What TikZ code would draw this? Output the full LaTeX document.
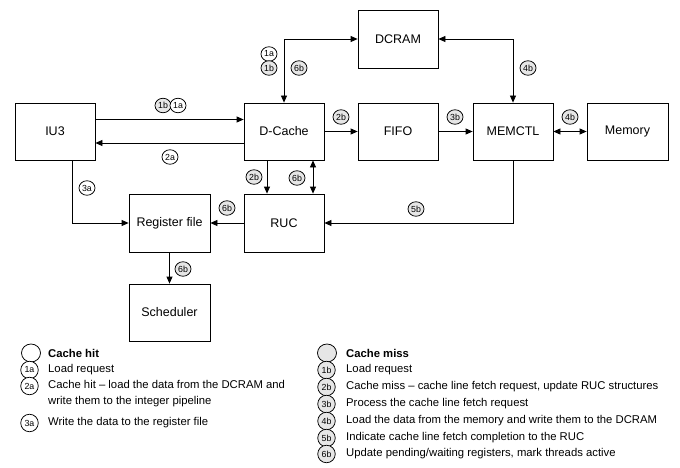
\documentclass[tikz,border=0pt]{standalone}
\usepackage{fontspec}
\setmainfont{Liberation Sans}
\usetikzlibrary{arrows.meta,shapes.geometric}
\definecolor{missgray}{RGB}{230,230,230}
\begin{document}
\begin{tikzpicture}[x=1pt,y=-1pt,
  box/.style={draw,line width=0.8pt,minimum width=80pt,minimum height=57pt,inner sep=0,font=\fontsize{12.5}{14}\selectfont},
  conn/.style={line width=0.8pt},
  arr/.style={conn,-{Triangle[length=7pt,width=6pt]}},
  darr/.style={conn,{Triangle[length=7pt,width=6pt]}-{Triangle[length=7pt,width=6pt]}},
  hit/.style={ellipse,draw,line width=0.75pt,fill=white,minimum width=16pt,minimum height=14.5pt,inner sep=0,font=\fontsize{8.8}{9}\selectfont},
  miss/.style={hit,fill=missgray},
  lhit/.style={hit,minimum width=17.5pt,minimum height=17.5pt},
  lmiss/.style={lhit,fill=missgray},
  legtext/.style={anchor=west,inner sep=0,font=\fontsize{11.3}{16}\selectfont,align=left}
]
\useasboundingbox (0,0) rectangle (680,468);

% boxes
\node[box] (iu3) at (55,131.5) {IU3};
\node[box] (dc) at (284,131.5) {D-Cache};
\node[box,minimum height=58pt] (dcram) at (398,39) {DCRAM};
\node[box] (fifo) at (398,131.5) {FIFO};
\node[box] (memctl) at (513,131.5) {MEMCTL};
\node[box,minimum width=81pt] (mem) at (627.5,131.5) {Memory};
\node[box,minimum width=81pt,minimum height=58pt] (rf) at (169.5,223) {Register file};
\node[box,minimum height=58pt] (ruc) at (284,223) {RUC};
\node[box,minimum width=81pt] (sch) at (169.5,312.5) {Scheduler};

% connectors
\draw[arr] ([yshift=12pt]iu3.east) -- ([yshift=12pt]dc.west);
\draw[arr] ([yshift=-11.5pt]dc.west) -- ([yshift=-11.5pt]iu3.east);
\draw[arr] ([xshift=17.7pt]iu3.south) |- (rf.west);
\draw[arr] ([xshift=-17pt]dc.south) -- ([xshift=-17pt]ruc.north);
\draw[darr] ([xshift=29pt]dc.south) -- ([xshift=29pt]ruc.north);
\draw[arr] (ruc.west) -- (rf.east);
\draw[darr] (dc.north) |- (dcram.west);
\draw[darr] (dcram.east) -| (memctl.north);
\draw[arr] (dc.east) -- (fifo.west);
\draw[arr] (fifo.east) -- (memctl.west);
\draw[darr] (memctl.east) -- (mem.west);
\draw[arr] (memctl.south) |- (ruc.east);
\draw[arr] (rf.south) -- (sch.north);

% step labels
\node[miss] (c1) at (163,105.5) {1b};
\node[hit] (c2) at (178,105.5) {1a};
\node[hit] (c3) at (170,157) {2a};
\node[hit] (c4) at (87,188) {3a};
\node[miss] (c5) at (254,177) {2b};
\node[miss] (c6) at (297,178) {6b};
\node[miss] (c7) at (227,208) {6b};
\node[hit] (c8) at (269,54) {1a};
\node[miss] (c9) at (269,68) {1b};
\node[miss] (c10) at (299,68) {6b};
\node[miss] (c11) at (528,68) {4b};
\node[miss] (c12) at (341,117) {2b};
\node[miss] (c13) at (455,117) {3b};
\node[miss] (c14) at (570,117) {4b};
\node[miss] (c15) at (416,209) {5b};
\node[miss] (c16) at (183,269) {6b};

% legend: cache hit
\node[lhit,minimum width=19pt,minimum height=18pt] (lh0) at (31,353) {};
\node[legtext] (th0) at (48,353) {\textbf{Cache hit}};
\node[lhit] (lh1) at (29.5,370) {1a};
\node[legtext] (th1) at (48,370) {Load request};
\node[lhit] (lh2) at (29.5,386) {2a};
\node[legtext] (th2) at (48,394) {Cache hit – load the data from the DCRAM and\\write them to the integer pipeline};
\node[lhit] (lh3) at (29.5,423) {3a};
\node[legtext] (th3) at (48,423) {Write the data to the register file};

% legend: cache miss
\node[lmiss,minimum width=19pt,minimum height=18pt] (lm0) at (327,353) {};
\node[legtext] (tm0) at (346,353) {\textbf{Cache miss}};
\node[lmiss] (lm1) at (326.5,370) {1b};
\node[legtext] (tm1) at (346,370) {Load request};
\node[lmiss] (lm2) at (326.5,387) {2b};
\node[legtext] (tm2) at (346,387) {Cache miss – cache line fetch request, update RUC structures};
\node[lmiss] (lm3) at (326.5,404) {3b};
\node[legtext] (tm3) at (346,404) {Process the cache line fetch request};
\node[lmiss] (lm4) at (326.5,421) {4b};
\node[legtext] (tm4) at (346,421) {Load the data from the memory and write them to the DCRAM};
\node[lmiss] (lm5) at (326.5,438) {5b};
\node[legtext] (tm5) at (346,438) {Indicate cache line fetch completion to the RUC};
\node[lmiss] (lm6) at (326.5,454) {6b};
\node[legtext] (tm6) at (346,454) {Update pending/waiting registers, mark threads active};
\end{tikzpicture}
\end{document}
